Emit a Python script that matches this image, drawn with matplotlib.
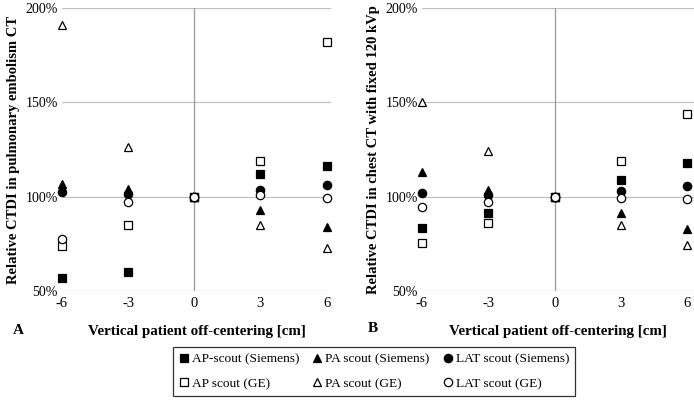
import matplotlib.pyplot as plt
from matplotlib.lines import Line2D

plt.rcParams['font.family'] = ['Liberation Serif', 'DejaVu Serif']

offsets = [-6, -3, 0, 3, 6]

# Panel A: pulmonary embolism CT (relative CTDI, %)
pe_ap_siemens = [57, 60, 100, 112, 116.5]
pe_pa_siemens = [106.5, 104, 100, 93, 84]
pe_lat_siemens = [102.5, 101.5, 100, 103.5, 106]
pe_ap_ge = [74, 85, 100, 119, 182]
pe_pa_ge = [191, 126.5, 100, 85, 73]
pe_lat_ge = [77.5, 97, 100, 101, 99.5]

# Panel B: chest CT with fixed 120 kVp
ch_ap_siemens = [83.5, 91.5, 100, 109, 118]
ch_pa_siemens = [113, 103.5, 100, 91.5, 83]
ch_lat_siemens = [102, 101, 100, 103, 105.5]
ch_ap_ge = [75.5, 86, 100, 119, 144]
ch_pa_ge = [150, 124, 100, 85, 74.5]
ch_lat_ge = [94.5, 97, 100, 99.5, 99]

labels = ["AP-scout (Siemens)", "PA scout (Siemens)", "LAT scout (Siemens)",
          "AP scout (GE)", "PA scout (GE)", "LAT scout (GE)"]
markers = ["s", "^", "o", "s", "^", "o"]
fills = ["black", "black", "black", "white", "white", "white"]

yticks = [50, 100, 150, 200]

fig = plt.figure(figsize=(6.94, 4.01), dpi=100)
axA = fig.add_axes([0.0893, 0.2743, 0.3876, 0.7057])
axB = fig.add_axes([0.608, 0.2743, 0.392, 0.7057])

panels = [
    (axA, [pe_ap_siemens, pe_pa_siemens, pe_lat_siemens, pe_ap_ge, pe_pa_ge, pe_lat_ge],
     "Relative CTDI in pulmonary embolism CT", 6.2),
    (axB, [ch_ap_siemens, ch_pa_siemens, ch_lat_siemens, ch_ap_ge, ch_pa_ge, ch_lat_ge],
     "Relative CTDI in chest CT with fixed 120 kVp", 6.3),
]

for ax, series, ylabel, xmax in panels:
    for vals, m, fc in zip(series, markers, fills):
        ax.plot(offsets, vals, linestyle="none", marker=m, markersize=6,
                markerfacecolor=fc, markeredgecolor="black", markeredgewidth=0.9,
                clip_on=False, zorder=3)
    ax.set_xlim(-6, xmax)
    ax.set_ylim(50, 200)
    ax.set_yticks(yticks)
    ax.set_yticklabels([f"{v}%" for v in yticks], fontsize=10)
    ax.set_xticks(offsets)
    ax.set_xticklabels([str(v) for v in offsets], fontsize=10.5)
    for s in ax.spines.values():
        s.set_visible(False)
    ax.tick_params(length=0, pad=3)
    ax.tick_params(axis="x", pad=4)
    for v in yticks:
        ax.axhline(v, color="#c0c0c0", linewidth=0.9, zorder=1)
    ax.axvline(0, color="#a0a0a0", linewidth=1.0, zorder=1)
    ax.set_xlabel("Vertical patient off-centering [cm]", fontsize=10.8,
                  fontweight="bold", labelpad=11)
    ax.set_ylabel(ylabel, fontsize=10.5, fontweight="bold", labelpad=4)

fig.text(13 / 694, 1 - 331 / 401, "A", fontsize=11, fontweight="bold",
         ha="left", va="center")
fig.text(368 / 694, 1 - 329 / 401, "B", fontsize=11, fontweight="bold",
         ha="left", va="center")

handles = [Line2D([], [], linestyle="none", marker=m, markersize=6,
                  markerfacecolor=fc, markeredgecolor="black", markeredgewidth=0.9)
           for m, fc in zip(markers, fills)]
order = [0, 3, 1, 4, 2, 5]
leg = fig.legend([handles[i] for i in order], [labels[i] for i in order],
                 ncol=3, loc="center", bbox_to_anchor=(0.539, 0.0736),
                 fontsize=9.6, frameon=True, fancybox=False, edgecolor="black",
                 handlelength=0.7, handletextpad=0.25, columnspacing=1.0,
                 labelspacing=0.9, borderpad=0.45)
leg.get_frame().set_linewidth(0.9)

fig.savefig("out.png", dpi=100)
